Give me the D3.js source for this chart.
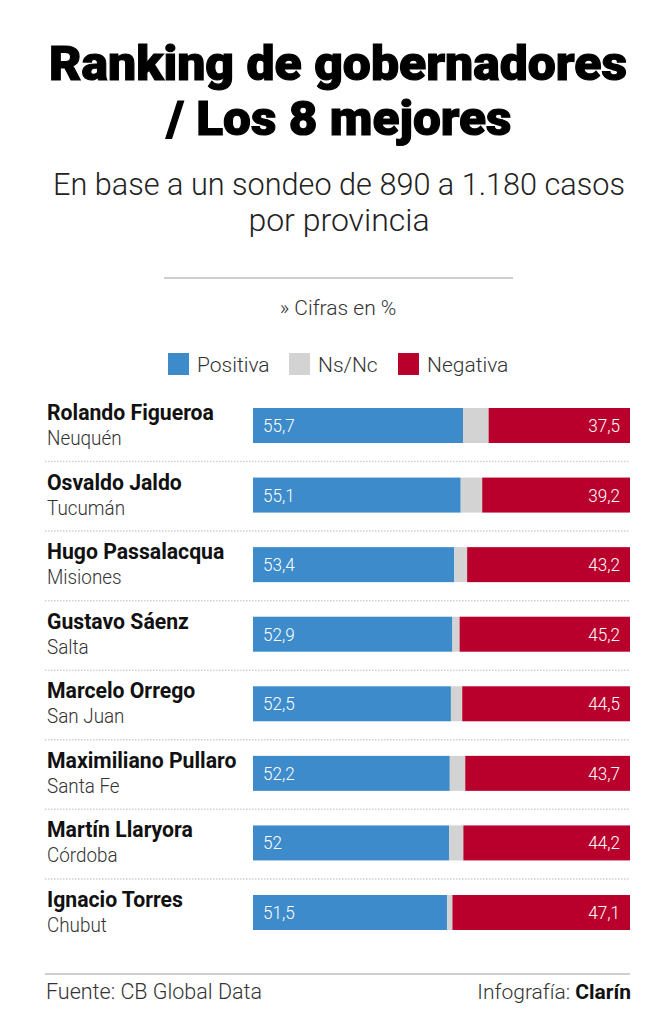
<!DOCTYPE html>
<html><head><meta charset="utf-8">
<script src="https://cdn.jsdelivr.net/npm/d3@7"></script>
<style>body{margin:0;background:#fff}svg{display:block}</style>
</head><body><svg id="c" width="669" height="1024"></svg>
<script>
const names = ["Rolando Figueroa","Osvaldo Jaldo","Hugo Passalacqua","Gustavo Sáenz","Marcelo Orrego","Maximiliano Pullaro","Martín Llaryora","Ignacio Torres"];
const provinces = ["Neuquén","Tucumán","Misiones","Salta","San Juan","Santa Fe","Córdoba","Chubut"];
const positiva = [55.7,55.1,53.4,52.9,52.5,52.2,52,51.5];
const negativa = [37.5,39.2,43.2,45.2,44.5,43.7,44.2,47.1];
const seriesNames = ["Positiva","Ns/Nc","Negativa"];
const colors = ["#3d8bca","#d3d3d3","#b9002d"];

const svg = d3.select("#c");
const F = "Roboto, 'Liberation Sans', sans-serif";
const fmt = v => String(v).replace(".", ",");
function condense(sel, k){
  sel.each(function(){
    const L = this.getComputedTextLength();
    d3.select(this).attr("textLength", L*k).attr("lengthAdjust","spacingAndGlyphs");
  });
  return sel;
}

// Title
svg.append("text").attr("x",338).attr("y",80).attr("text-anchor","middle")
  .attr("font-family",F).attr("font-weight",900).attr("font-size",48).attr("fill","#000")
  .attr("stroke","#000").attr("stroke-width",1.1)
  .attr("textLength",578).attr("lengthAdjust","spacingAndGlyphs").text("Ranking de gobernadores");
svg.append("text").attr("x",339).attr("y",135).attr("text-anchor","middle")
  .attr("font-family",F).attr("font-weight",900).attr("font-size",48).attr("fill","#000")
  .attr("stroke","#000").attr("stroke-width",1.1)
  .attr("textLength",345).attr("lengthAdjust","spacingAndGlyphs").text("/ Los 8 mejores");
// Subtitle
svg.append("text").attr("x",339).attr("y",195).attr("text-anchor","middle")
  .attr("font-family",F).attr("font-weight",300).attr("font-size",31).attr("fill","#222")
  .attr("textLength",572).attr("lengthAdjust","spacingAndGlyphs").text("En base a un sondeo de 890 a 1.180 casos");
svg.append("text").attr("x",339).attr("y",231).attr("text-anchor","middle")
  .attr("font-family",F).attr("font-weight",300).attr("font-size",32).attr("fill","#222")
  .text("por provincia");
// divider
svg.append("line").attr("x1",164).attr("x2",513).attr("y1",278).attr("y2",278)
  .attr("stroke","#cfcfcf").attr("stroke-width",2);
svg.append("text").attr("x",338).attr("y",315).attr("text-anchor","middle")
  .attr("font-family",F).attr("font-weight",300).attr("font-size",21).attr("fill","#333").text("» Cifras en %");

// Legend
const legX = [168,289,398];
const lg = svg.append("g");
seriesNames.forEach((s,i)=>{
  lg.append("rect").attr("x",legX[i]).attr("y",353).attr("width",21).attr("height",22).attr("fill",colors[i]);
  lg.append("text").attr("x",legX[i]+29).attr("y",372).attr("font-family",F).attr("font-size",21)
    .attr("font-weight",300).attr("fill","#333").text(s);
});

// Scales
const x = d3.scaleLinear().domain([0,100]).range([253,630]);
const y = d3.scalePoint().domain(names).range([425.5,912.5]);
const bh = 35;

const rows = svg.append("g").selectAll("g").data(names).join("g");
rows.each(function(n,i){
  const g = d3.select(this);
  const cy = y(n);
  const pos = positiva[i], neg = negativa[i];
  const ns = +(100-pos-neg).toFixed(1);
  const segs = [[0,pos],[pos,pos+ns],[100-neg,100]];
  segs.forEach((s,k)=>{
    g.append("rect").attr("x",x(s[0])).attr("y",cy-bh/2).attr("width",Math.max(0,x(s[1])-x(s[0])))
      .attr("height",bh).attr("fill",colors[k]);
  });
  condense(g.append("text").attr("x",x(0)+10).attr("y",cy+6.5).attr("font-family",F).attr("font-size",19)
    .attr("font-weight",300).attr("fill","#fff").text(fmt(pos)), 0.9);
  condense(g.append("text").attr("x",x(100)-10).attr("y",cy+6.5).attr("text-anchor","end").attr("font-family",F)
    .attr("font-size",19).attr("font-weight",300).attr("fill","#fff").text(fmt(neg)), 0.9);
  g.append("text").attr("x",47).attr("y",cy-5.5).attr("font-family",F).attr("font-weight",700)
    .attr("font-size",21.2).attr("fill","#111").text(n);
  condense(g.append("text").attr("x",47).attr("y",cy+19.5).attr("font-family",F).attr("font-weight",300)
    .attr("font-size",20.5).attr("fill","#333").text(provinces[i]), 0.92);
  if(i<names.length-1){
    g.append("line").attr("x1",45).attr("x2",630).attr("y1",cy+36).attr("y2",cy+36)
      .attr("stroke","#cfcfcf").attr("stroke-width",1.5).attr("stroke-dasharray","1.5,1.5");
  }
});

// Footer
svg.append("line").attr("x1",45).attr("x2",630).attr("y1",974).attr("y2",974)
  .attr("stroke","#cfcfcf").attr("stroke-width",2);
svg.append("text").attr("x",46).attr("y",999).attr("font-family",F).attr("font-weight",300)
  .attr("font-size",21.5).attr("fill","#333").text("Fuente: CB Global Data");
const ft = svg.append("text").attr("x",631).attr("y",999).attr("text-anchor","end")
  .attr("font-family",F).attr("font-size",21).attr("fill","#333");
ft.append("tspan").attr("font-weight",300).text("Infografía: ");
ft.append("tspan").attr("font-weight",700).attr("fill","#111").text("Clarín");
</script></body></html>
